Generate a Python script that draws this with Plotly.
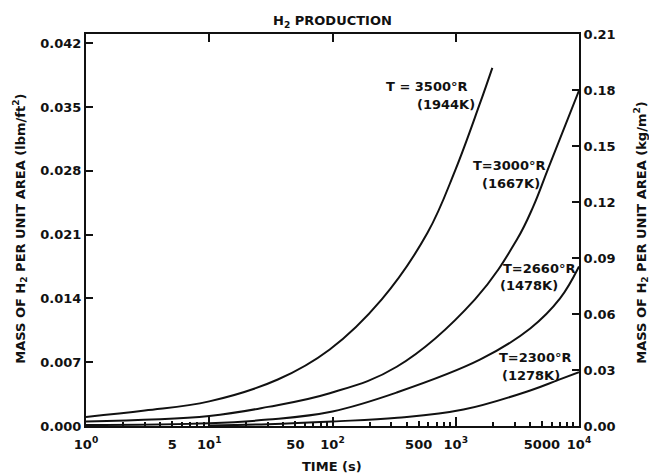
import plotly.graph_objects as go

# ---------------- data (mass of H2 per unit area, lbm/ft^2) ----------------
t_3500 = [1, 3, 10, 36, 95, 251, 590, 986, 1553, 1981]
m_3500 = [0.0010, 0.0017, 0.0027, 0.0051, 0.0084, 0.0139, 0.0212, 0.0280, 0.0352, 0.0393]

t_3000 = [1, 10, 30, 95, 332, 1432, 3120, 4260, 5640, 10000]
m_3000 = [0.0005, 0.0011, 0.0021, 0.0036, 0.0065, 0.0139, 0.0204, 0.0241, 0.0283, 0.0368]

t_2660 = [1, 10, 30, 100, 336, 1585, 4020, 7020, 10000]
m_2660 = [0.0001, 0.0003, 0.0007, 0.0016, 0.0037, 0.0073, 0.0107, 0.0140, 0.0175]

t_2300 = [10, 30, 100, 336, 1155, 4020, 6640, 10000]
m_2300 = [0.00005, 0.0002, 0.0005, 0.0009, 0.0018, 0.0039, 0.0050, 0.0059]

x_tickvals = [1, 5, 10, 50, 100, 500, 1000, 5000, 10000]
x_ticktext = ["10<sup>0</sup>", "5", "10<sup>1</sup>", "50", "10<sup>2</sup>",
              "500", "10<sup>3</sup>", "5000", "10<sup>4</sup>"]
x_major = [10, 100, 1000]
x_minor = [m * 10 ** d for d in range(4) for m in (2, 3, 4, 6, 7, 8, 9)]

yl_tickvals = [0, 0.007, 0.014, 0.021, 0.028, 0.035, 0.042]
yl_ticktext = ["0.000", "0.007", "0.014", "0.021", "0.028", "0.035", "0.042"]
yr_tickvals = [0, 0.03, 0.06, 0.09, 0.12, 0.15, 0.18, 0.21]
yr_ticktext = ["0.00", "0.03", "0.06", "0.09", "0.12", "0.15", "0.18", "0.21"]

LBM_FT2_TO_KG_M2 = 4.88243
YR_MAX = 0.21

labels = [
    ("T = 3500°R", 470, 87), ("(1944K)", 477, 105),
    ("T=3000°R", 547, 166), ("(1667K)", 542, 184),
    ("T=2660°R", 577, 269), ("(1478K)", 560, 286),
    ("T=2300°R", 573, 358), ("(1278K)", 562, 376),
]

# ---------------- figure ----------------
FONT = "DejaVu Sans"
L, R, T, B = 86, 579, 34, 426.5
W, H = 649, 475

def px(xp):
    return (xp - L) / (R - L)

def py(yp):
    return (B - yp) / (B - T)

fig = go.Figure()
for tt, mm in [(t_3500, m_3500), (t_3000, m_3000), (t_2660, m_2660), (t_2300, m_2300)]:
    fig.add_trace(go.Scatter(x=tt, y=mm, mode="lines",
                             line=dict(color="#111111", width=2, shape="spline", smoothing=1.1),
                             showlegend=False, hoverinfo="skip"))

# invisible helper traces so the extra axes are drawn
fig.add_trace(go.Scatter(x=[x_tickvals[0]], y=[yr_tickvals[0]], xaxis="x2", yaxis="y2",
                         mode="markers", marker=dict(opacity=0), showlegend=False, hoverinfo="skip"))
fig.add_trace(go.Scatter(x=[x_tickvals[0]], y=[yl_tickvals[0]], xaxis="x3", yaxis="y",
                         mode="markers", marker=dict(opacity=0), showlegend=False, hoverinfo="skip"))

axis_font = dict(family=FONT, size=13, color="#111111", weight="bold")

fig.update_layout(
    width=W, height=H,
    margin=dict(l=L, r=W - R, t=T, b=H - B),
    paper_bgcolor="white", plot_bgcolor="white",
    font=dict(family=FONT, size=13, color="#111111", weight="bold"),
    xaxis=dict(type="log", range=[0, 4], showgrid=False, zeroline=False,
               showline=True, linecolor="#111111", linewidth=2,
               tickmode="array", tickvals=x_tickvals, ticktext=x_ticktext,
               ticks="inside", ticklen=5, tickwidth=1.5, tickcolor="#111111",
               tickfont=axis_font, ticklabelstandoff=5,
               minor=dict(tickmode="array", tickvals=x_minor, ticks="inside",
                          ticklen=4, tickwidth=1.5, tickcolor="#111111", showgrid=False)),
    xaxis2=dict(type="log", range=[0, 4], overlaying="x", side="top", anchor="y",
                showgrid=False, zeroline=False, showline=True, linecolor="#111111", linewidth=2,
                tickmode="array", tickvals=x_major, ticks="inside", ticklen=8, tickwidth=1.5,
                tickcolor="#111111", showticklabels=False),
    xaxis3=dict(type="log", range=[0, 4], overlaying="x", side="bottom", anchor="y",
                showgrid=False, zeroline=False, showline=False,
                tickmode="array", tickvals=x_major, ticks="inside", ticklen=9, tickwidth=1.5,
                tickcolor="#111111", showticklabels=False),
    yaxis=dict(range=[0, YR_MAX / LBM_FT2_TO_KG_M2], showgrid=False, zeroline=False,
               showline=True, linecolor="#111111", linewidth=2,
               tickmode="array", tickvals=yl_tickvals, ticktext=yl_ticktext,
               ticks="inside", ticklen=7, tickwidth=1.5, tickcolor="#111111",
               tickfont=axis_font),
    yaxis2=dict(range=[0, YR_MAX], overlaying="y", side="right", anchor="x",
                showgrid=False, zeroline=False,
                showline=True, linecolor="#111111", linewidth=2,
                tickmode="array", tickvals=yr_tickvals, ticktext=yr_ticktext,
                ticks="inside", ticklen=7, tickwidth=1.5, tickcolor="#111111",
                tickfont=axis_font),
)

ann = []
ann.append(dict(text="H<sub>2</sub> PRODUCTION", xref="paper", yref="paper",
                x=px(332), y=py(21), xanchor="center", yanchor="middle",
                showarrow=False, font=dict(family=FONT, size=13, weight="bold")))
ann.append(dict(text="TIME (s)", xref="paper", yref="paper",
                x=px(332), y=py(467), xanchor="center", yanchor="middle",
                showarrow=False, font=dict(family=FONT, size=13, weight="bold")))
ann.append(dict(text="MASS OF H<sub>2</sub> PER UNIT AREA (lbm/ft<sup>2</sup>)", xref="paper", yref="paper",
                x=px(20), y=py(229), xanchor="center", yanchor="middle", textangle=-90,
                showarrow=False, font=dict(family=FONT, size=13, weight="bold")))
ann.append(dict(text="MASS OF H<sub>2</sub> PER UNIT AREA (kg/m<sup>2</sup>)", xref="paper", yref="paper",
                x=px(641), y=py(233), xanchor="center", yanchor="middle", textangle=-90,
                showarrow=False, font=dict(family=FONT, size=13, weight="bold")))
for txt, xr, yc in labels:
    ann.append(dict(text=txt, xref="paper", yref="paper", x=px(xr), y=py(yc),
                    xanchor="right", yanchor="middle", showarrow=False,
                    font=dict(family=FONT, size=13, weight="bold")))
fig.update_layout(annotations=ann)

fig.write_html("out.html")
